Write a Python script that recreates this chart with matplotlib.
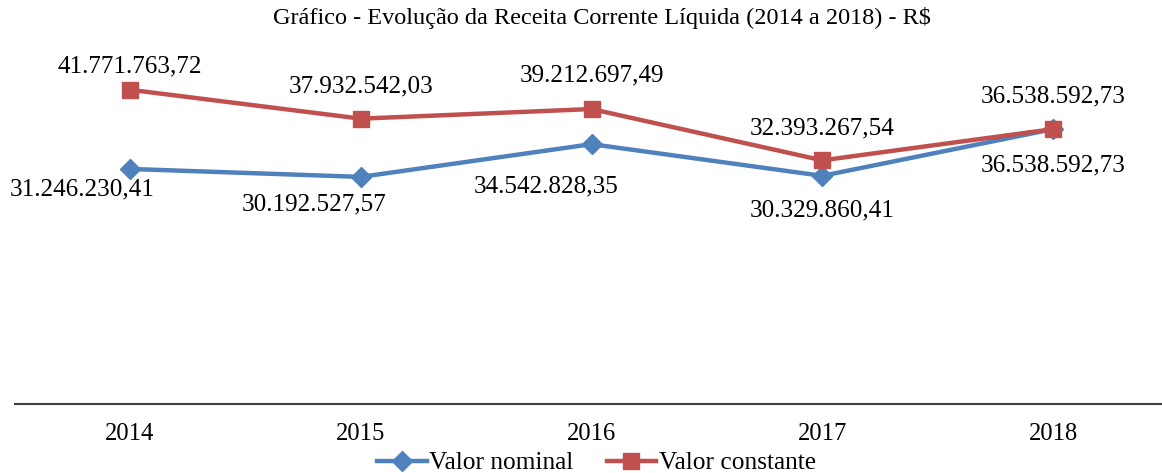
import matplotlib
matplotlib.use("Agg")
import matplotlib.pyplot as plt

years = ["2014", "2015", "2016", "2017", "2018"]
nominal = [31246230.41, 30192527.57, 34542828.35, 30329860.41, 36538592.73]
constante = [41771763.72, 37932542.03, 39212697.49, 32393267.54, 36538592.73]
nominal_labels = ["31.246.230,41", "30.192.527,57", "34.542.828,35", "30.329.860,41", "36.538.592,73"]
constante_labels = ["41.771.763,72", "37.932.542,03", "39.212.697,49", "32.393.267,54", "36.538.592,73"]
title = "Gráfico - Evolução da Receita Corrente Líquida (2014 a 2018) - R$"

plt.rcParams['font.family'] = ['Liberation Serif', 'DejaVu Serif']

W, H = 1162, 473
fig = plt.figure(figsize=(W / 100, H / 100), dpi=100)
left = 14.6 / W
width = 1153.8 / W
bottom = 69 / H
top = 65.5 / H
ax = fig.add_axes([left, bottom, width, 1 - bottom - top])

blue = "#4F81BD"
red = "#C0504D"
x = list(range(len(years)))
ax.plot(x, nominal, color=blue, lw=3.2, marker="D", ms=10, label="Valor nominal", zorder=3)
ax.plot(x, constante, color=red, lw=3.2, marker="s", ms=12, label="Valor constante", zorder=4)

ax.set_xlim(-0.5, len(years) - 0.5)
ax.set_ylim(0, 45e6)
ax.set_xticks(x)
ax.set_xticklabels(years, fontsize=17.7)
ax.tick_params(axis="x", length=0, pad=14)
ax.set_yticks([])
for s in ["top", "right", "left"]:
    ax.spines[s].set_visible(False)
ax.spines["bottom"].set_linewidth(1.5)
ax.spines["bottom"].set_color("#404040")

px = 0.72  # points per pixel
blue_off = [(-48, 20), (-47, 28), (-45, 42), (0, 35), (0, 36)]
red_off = [(0, -23), (0, -32), (0, -34), (0, -32), (0, -33)]
fs = 18.1
for i in x:
    dx, dy = blue_off[i]
    ax.annotate(nominal_labels[i], (i, nominal[i]), xytext=(dx * px, -dy * px),
                textcoords="offset points", ha="center", va="center", fontsize=fs)
    dx, dy = red_off[i]
    ax.annotate(constante_labels[i], (i, constante[i]), xytext=(dx * px, -dy * px),
                textcoords="offset points", ha="center", va="center", fontsize=fs)

fig.text(602 / W, 1 - 18 / H, title, ha="center", va="center", fontsize=17.5)

fig.legend(loc="center", bbox_to_anchor=(596.5 / W, 1 - 463 / H), ncol=2, frameon=False,
           fontsize=18.3, handlelength=1.95, columnspacing=1.3, handletextpad=0.1,
           borderaxespad=0, borderpad=0)

fig.savefig("out.png", dpi=100)
